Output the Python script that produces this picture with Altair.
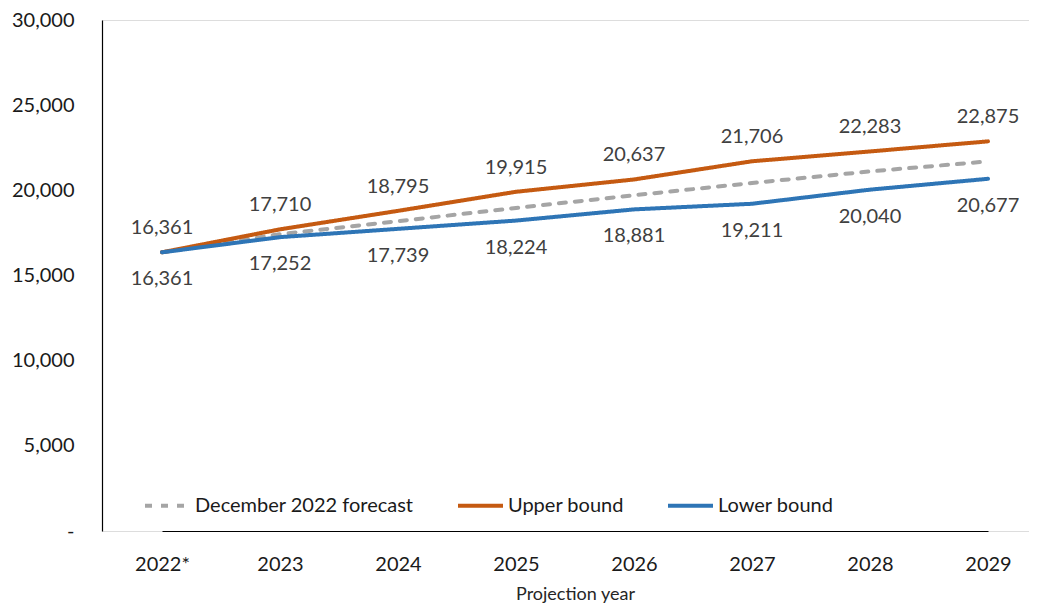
import altair as alt
import pandas as pd

years = ["2022*", "2023", "2024", "2025", "2026", "2027", "2028", "2029"]
forecast = [16361, 17430, 18190, 18965, 19710, 20430, 21110, 21700]
upper = [16361, 17710, 18795, 19915, 20637, 21706, 22283, 22875]
lower = [16361, 17252, 17739, 18224, 18881, 19211, 20040, 20677]

series_names = ["December 2022 forecast", "Upper bound", "Lower bound"]
series_colors = ["#A5A5A5", "#C55A11", "#2E75B6"]
series_dash = [[7, 9], [1, 0], [1, 0]]

rows = []
for name, vals in zip(series_names, [forecast, upper, lower]):
    for y, v in zip(years, vals):
        rows.append({"year": y, "value": v, "series": name})
df = pd.DataFrame(rows)

FONT = "Lato"

x_scale = alt.Scale(type="point", range=[60, 886], padding=0)

x_enc = alt.X("year:O", sort=years, title="Projection year",
              scale=x_scale,
              axis=alt.Axis(labelAngle=0, ticks=False, labelPadding=23,
                            labelFontSize=20, labelColor="#1a1a1a",
                            titleFontSize=18, titleFontWeight="normal",
                            titleColor="#262626", titlePadding=11,
                            domainColor="#000000", domainWidth=1.2))
y_enc = alt.Y("value:Q", title=None,
              scale=alt.Scale(domain=[0, 30000], nice=False),
              axis=alt.Axis(values=[0, 5000, 10000, 15000, 20000, 25000, 30000],
                            labelExpr="datum.value == 0 ? '-\u00a0\u00a0\u00a0' : format(datum.value, ',')",
                            ticks=False, grid=False, labelPadding=28,
                            labelFontSize=20, labelColor="#1a1a1a",
                            domainColor="#000000", domainWidth=1.2))

legend = alt.Legend(title=None, orient="none", legendX=41, legendY=461,
                    direction="horizontal", symbolType="stroke",
                    symbolSize=2025, symbolStrokeWidth=4, labelOffset=3,
                    columnPadding=36, labelFontSize=20, labelColor="#1a1a1a",
                    labelFont=FONT, labelLimit=400)
color_enc = alt.Color("series:N", scale=alt.Scale(domain=series_names, range=series_colors),
                      legend=legend)
dash_enc = alt.StrokeDash("series:N", scale=alt.Scale(domain=series_names, range=series_dash),
                          legend=legend)

base = alt.Chart(df)
layers = []
for name in series_names:
    layers.append(
        base.transform_filter(alt.datum.series == name)
        .mark_line(strokeWidth=4, strokeCap="round", strokeJoin="round")
        .encode(x=x_enc, y=y_enc, color=color_enc, strokeDash=dash_enc)
    )

up_text = base.transform_filter(alt.datum.series == "Upper bound").mark_text(
    dy=-24, fontSize=20, color="#404040", font=FONT, baseline="middle"
).encode(x=alt.X("year:O", sort=years, scale=x_scale), y="value:Q",
         text=alt.Text("value:Q", format=","))

low_text = base.transform_filter(alt.datum.series == "Lower bound").mark_text(
    dy=27, fontSize=20, color="#404040", font=FONT, baseline="middle"
).encode(x=alt.X("year:O", sort=years, scale=x_scale), y="value:Q",
         text=alt.Text("value:Q", format=","))

chart = alt.layer(*layers, up_text, low_text).properties(
    width=927, height=511,
    autosize=alt.AutoSizeParams(type="none"),
    padding={"left": 94, "top": 12, "right": 0, "bottom": 72},
).configure_view(stroke=None).configure(font=FONT)

chart.save("out.html", embed_options={"renderer": "svg", "actions": False})
